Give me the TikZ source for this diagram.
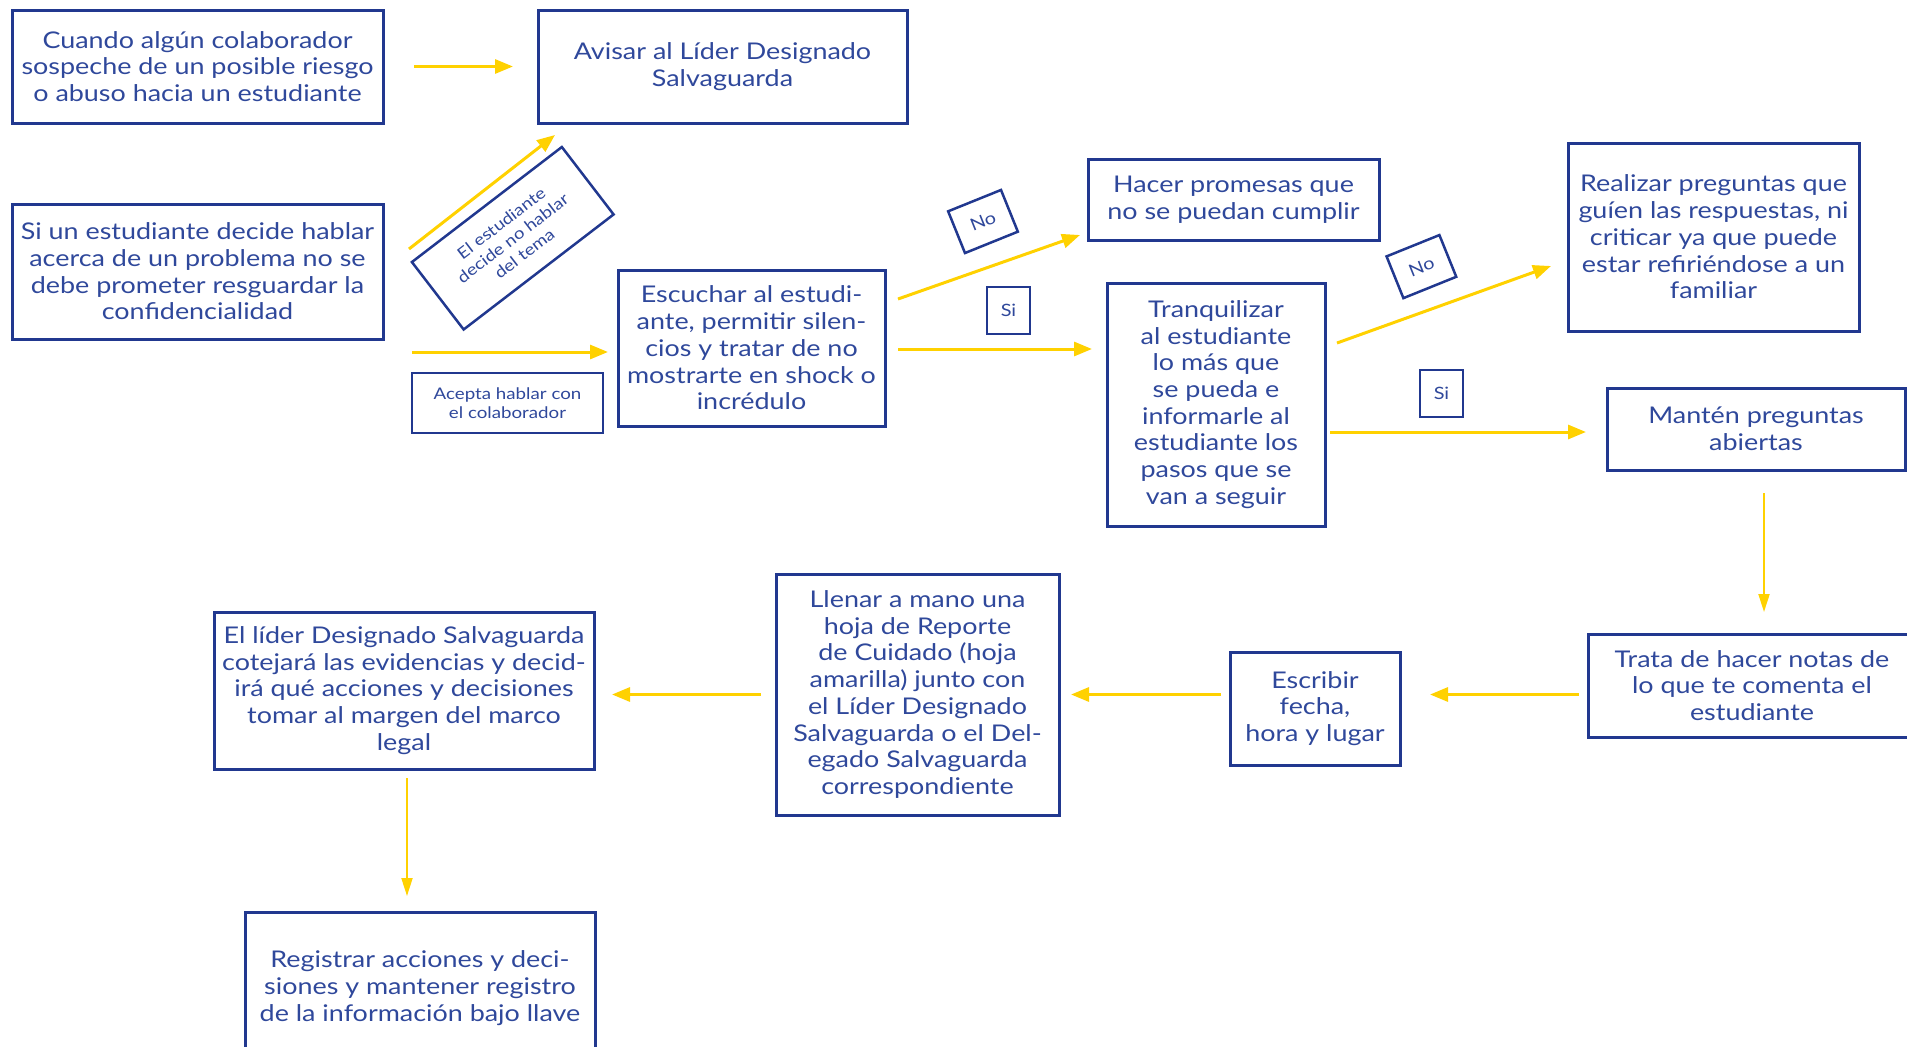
\documentclass[tikz,border=0pt]{standalone}
\usepackage{fontspec}
\setmainfont{Lato}[FakeStretch=1.17]
\usetikzlibrary{positioning, calc, arrows.meta}
\definecolor{navy}{RGB}{33,56,143}
\definecolor{ink}{RGB}{47,72,155}
\definecolor{gold}{RGB}{255,209,0}
\tikzset{%
  paso/.style = {rectangle, draw=navy, line width=3pt, text=ink, align=center,
                 inner sep=2pt, outer sep=0pt, font=\fontsize{23}{26.7}\selectfont},
  tag/.style = {rectangle, draw=navy, line width=2.5pt, text=ink, align=center,
                inner sep=1pt, outer sep=0pt, font=\fontsize{17}{20}\selectfont},
  flow/.style = {->, draw=gold, line width=3pt},
  drop/.style = {->, draw=gold, line width=2pt, >={Triangle[length=18pt,width=11pt]}}
  }

\begin{document}
\begin{tikzpicture}[x=1pt, y=1pt, >={Triangle[length=18pt,width=14pt]}]
    \useasboundingbox (0,0) rectangle (1907,-1047);

    \node (cuando)   [paso, minimum width=371pt, minimum height=113pt] at (197.5,-66.5)
                     {Cuando algún colaborador\\sospeche de un posible riesgo\\o abuso hacia un estudiante};
    \node (avisar)   [paso, minimum width=369pt, minimum height=113pt, right=155pt of cuando]
                     {Avisar al Líder Designado\\Salvaguarda};
    \node (hablar)   [paso, minimum width=371pt, minimum height=135pt, below=81pt of cuando]
                     {Si un estudiante decide hablar\\acerca de un problema no se\\debe prometer resguardar la\\confidencialidad};
    \node (escuchar) [paso, minimum width=267pt, minimum height=156pt, right=235pt of hablar, yshift=-76.5pt]
                     {Escuchar al estudi-\\ante, permitir silen-\\cios y tratar de no\\mostrarte en shock o\\incrédulo};
    \node (promesas) [paso, minimum width=291pt, minimum height=81pt, right=203pt of escuchar, yshift=148.5pt]
                     {Hacer promesas que\\no se puedan cumplir};
    \node (calmar)   [paso, minimum width=218pt, minimum height=243pt, right=222pt of escuchar, yshift=-56.5pt]
                     {Tranquilizar\\al estudiante\\lo más que\\se pueda e\\informarle al\\estudiante los\\pasos que se\\van a seguir};
    \node (realizar) [paso, minimum width=291pt, minimum height=188pt, right=243pt of calmar, yshift=167.5pt]
                     {Realizar preguntas que\\guíen las respuestas, ni\\criticar ya que puede\\estar refiriéndose a un\\familiar};
    \node (manten)   [paso, minimum width=298pt, minimum height=82pt, right=282pt of calmar, yshift=-24.5pt]
                     {Mantén preguntas\\abiertas};
    \node (notas)    [paso, minimum width=328pt, minimum height=103pt, below=164pt of manten, xshift=-4pt]
                     {Trata de hacer notas de\\lo que te comenta el\\estudiante};
    \node (escribir) [paso, minimum width=170pt, minimum height=113pt, left=188pt of notas, yshift=-23pt]
                     {Escribir\\fecha,\\hora y lugar};
    \node (llenar)   [paso, minimum width=283pt, minimum height=241pt, left=171pt of escribir, yshift=14pt]
                     {Llenar a mano una\\hoja de Reporte\\de Cuidado (hoja\\amarilla) junto con\\el Líder Designado\\Salvaguarda o el Del-\\egado Salvaguarda\\correspondiente};
    \node (lider)    [paso, minimum width=380pt, minimum height=157pt, left=182pt of llenar, yshift=4pt]
                     {El líder Designado Salvaguarda\\cotejará las evidencias y decid-\\irá qué acciones y decisiones\\tomar al margen del marco\\legal};
    \node (registro) [paso, minimum width=350pt, minimum height=152pt, below=143pt of lider, xshift=16pt]
                     {Registrar acciones y deci-\\siones y mantener registro\\de la información bajo llave};

    % etiquetas
    \node (callar)   [tag, rotate=37.5, minimum width=189pt, minimum height=85pt,
                      font=\fontsize{16}{19}\selectfont]
                     at ($(hablar.east)+(129.75,33.25)$) {El estudiante\\decide no hablar\\del tema};
    \node (acepta)   [tag, minimum width=191pt, minimum height=60pt, left=15pt of escuchar, yshift=-55pt,
                      font=\fontsize{16}{19}\selectfont] {Acepta hablar con\\el colaborador};
    \node (noA)      [tag, rotate=22, minimum width=57pt, minimum height=45pt]
                     at ($(promesas.west)+(-105,-22)$) {No};
    \node (siA)      [tag, minimum width=43pt, minimum height=47pt]
                     at ($(escuchar.east)+(123.5,37.5)$) {Si};
    \node (noB)      [tag, rotate=22, minimum width=57pt, minimum height=45pt]
                     at ($(realizar.west)+(-146.6,-29.6)$) {No};
    \node (siB)      [tag, minimum width=43pt, minimum height=47pt]
                     at ($(manten.west)+(-165.5,35.5)$) {Si};

    \draw[flow, shorten <=31pt, shorten >=25pt] (cuando) -- (avisar);
    \draw[flow] ($(hablar.east)+(26,22.5)$) -- ($(avisar.south west)+(17,-12)$);
    \draw[flow] ($(hablar.east)+(29,-80.5)$) -- ($(escuchar.west)+(-10,-4)$);
    \draw[flow] ($(escuchar.east)+(13,49)$) -- ($(promesas.west)+(-8,-35.5)$);
    \draw[flow] ($(escuchar.east)+(13,-1)$) -- ($(calmar.west)+(-15,55.5)$);
    \draw[flow] ($(calmar.east)+(12,61.5)$) -- ($(realizar.west)+(-17,-29)$);
    \draw[flow] ($(calmar.east)+(5,-27.5)$) -- ($(manten.west)+(-21,-3)$);
    \draw[drop, shorten <=23pt, shorten >=22pt] ([xshift=8pt]manten.south) -- ([xshift=8pt]manten.south |- notas.north);
    \draw[flow, shorten <=9pt, shorten >=30pt] (notas.west |- llenar.center) -- (escribir.east |- llenar.center);
    \draw[flow, shorten <=9pt, shorten >=12pt] (escribir.west |- llenar.center) -- (llenar.east);
    \draw[flow, shorten <=15pt, shorten >=18pt] (llenar.west) -- (lider.east |- llenar.center);
    \draw[drop, shorten <=9pt, shorten >=16pt] ([xshift=3pt]lider.south) -- ([xshift=3pt]lider.south |- registro.north);
\end{tikzpicture}
\end{document}
